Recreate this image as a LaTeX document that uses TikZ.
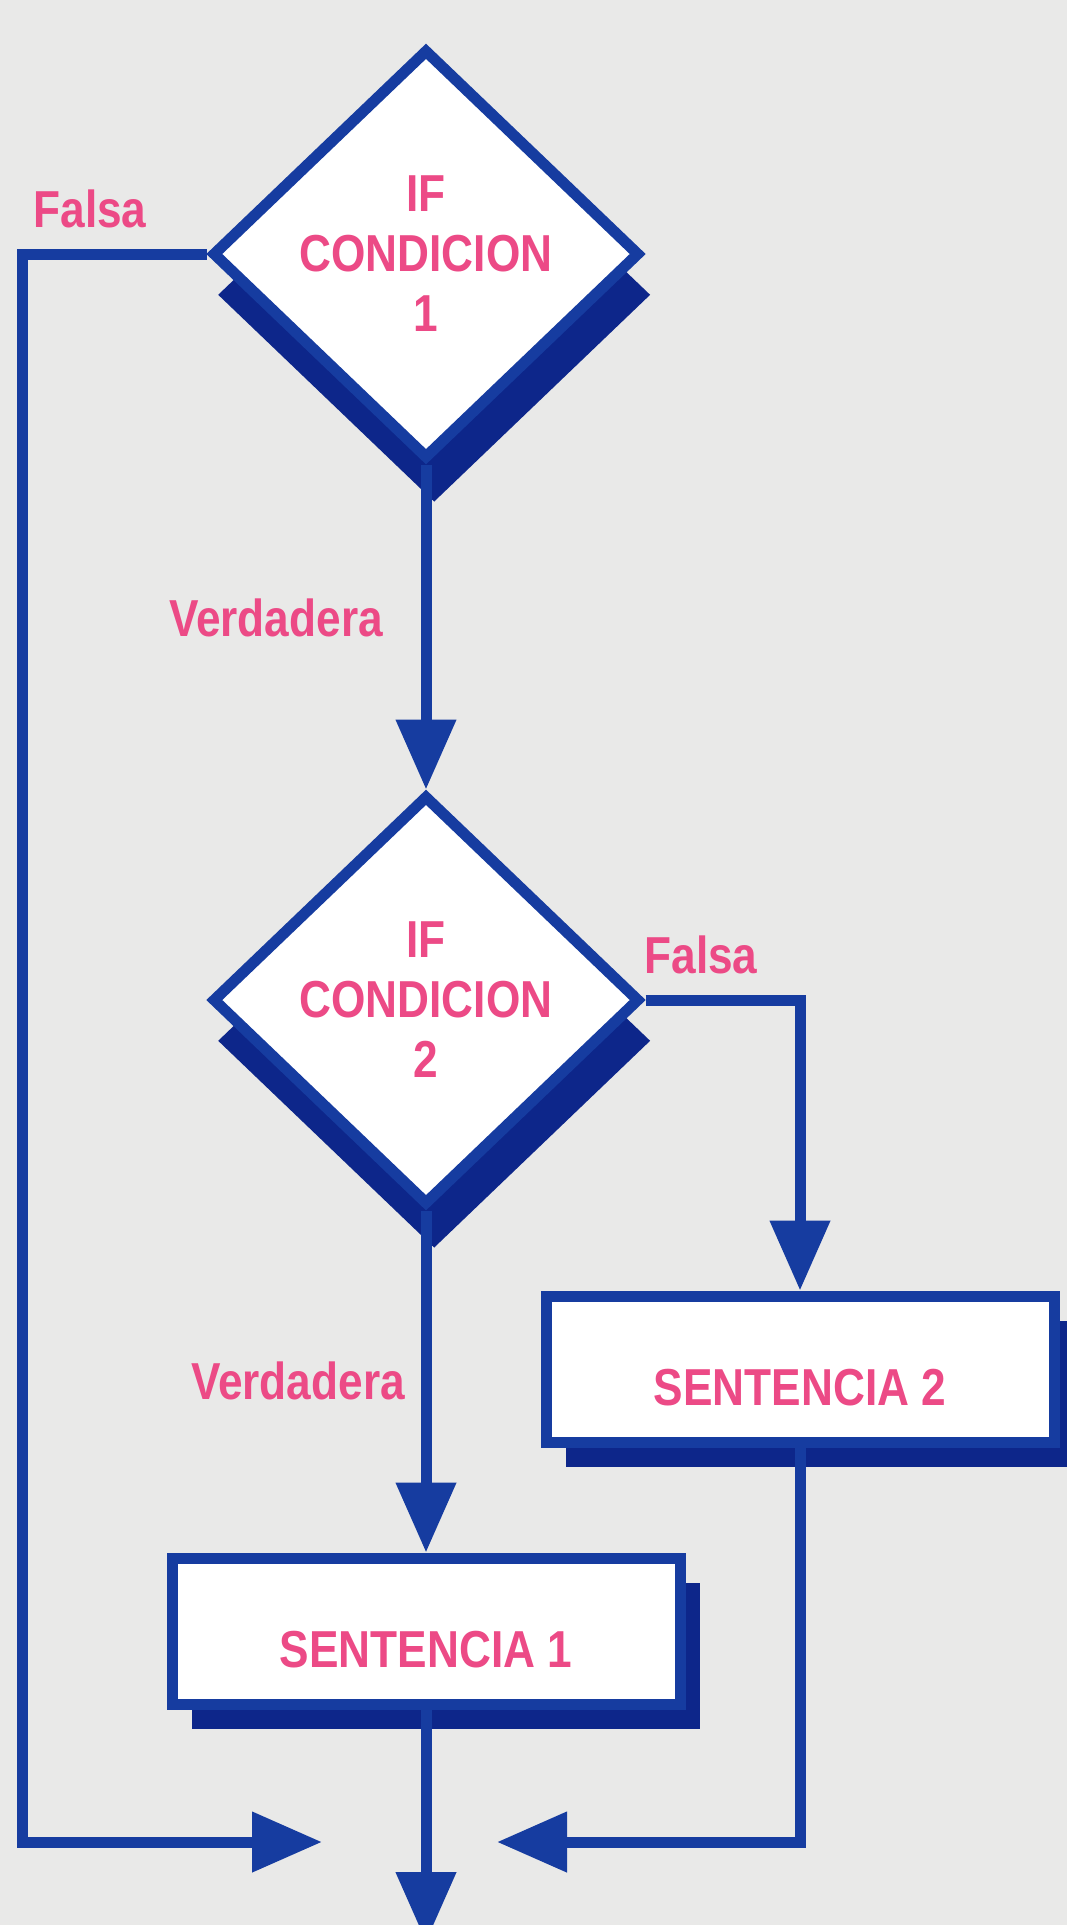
\documentclass[tikz,border=0pt]{standalone}
\usepackage{fontspec}
\setmainfont{Liberation Sans}[FakeStretch=0.85]
\usetikzlibrary{shapes.geometric,shadows,arrows.meta}
\definecolor{paper}{RGB}{233,233,232}
\definecolor{inkblue}{RGB}{22,60,160}
\definecolor{shadeblue}{RGB}{13,38,138}
\definecolor{rosa}{RGB}{236,74,134}
\newcommand{\flowfont}{\fontsize{52}{60}\selectfont\bfseries}
\begin{document}
\begin{tikzpicture}[x=1pt,y=-1pt]
      \tikzstyle{decision}=[diamond,draw=inkblue,fill=white,line width=11pt,minimum width=428pt,minimum height=410pt,inner sep=-12pt,align=center,text=rosa,font=\flowfont,drop shadow={shadow xshift=8pt,shadow yshift=-40pt,shadow scale=1.02,opacity=1,fill=shadeblue}]
      \tikzstyle{sentence}=[rectangle,draw=inkblue,fill=white,line width=11pt,minimum width=508pt,minimum height=146pt,text height=72pt,text depth=0pt,text=rosa,font=\flowfont,drop shadow={shadow xshift=20pt,shadow yshift=-25pt,opacity=1,fill=shadeblue}]
      \tikzstyle{branch}=[text=rosa,font=\flowfont]
      \tikzstyle{edge}=[draw=inkblue,line width=11pt,-{Triangle[width=58pt,length=70pt]}]
      \fill[paper] (0,0) rectangle (1067,1925);
      \useasboundingbox (0,0) rectangle (1067,1925);
      \node[decision] (C1) at (426,254) {IF\\CONDICION\\1};
      \node[decision] (C2) at (426,1000) {IF\\CONDICION\\2};
      \node[sentence] (S1) at (426,1631) {SENTENCIA 1};
      \node[sentence] (S2) at (800,1369) {SENTENCIA 2};
      \node[branch] (F1) at (90,209) {Falsa};
      \node[branch] (V1) at (276,618) {Verdadera};
      \node[branch] (F2) at (701,955) {Falsa};
      \node[branch] (V2) at (298,1381) {Verdadera};
      \coordinate (L) at (22,1842);
      \coordinate (inL) at (322,1842);
      \coordinate (inR) at (497,1842);
      \coordinate (out) at (426,1942);
      \path[edge] (C1.south) -- (C2.north);
      \path[edge] (C2.south) -- (S1.north);
      \path[edge] (C2.east) -| (S2.north);
      \path[edge] (C1.west) -| (L) -- (inL);
      \path[edge] (S2.south) |- (inR);
      \path[edge] (S1.south) -- (out);
    \end{tikzpicture}
\end{document}
